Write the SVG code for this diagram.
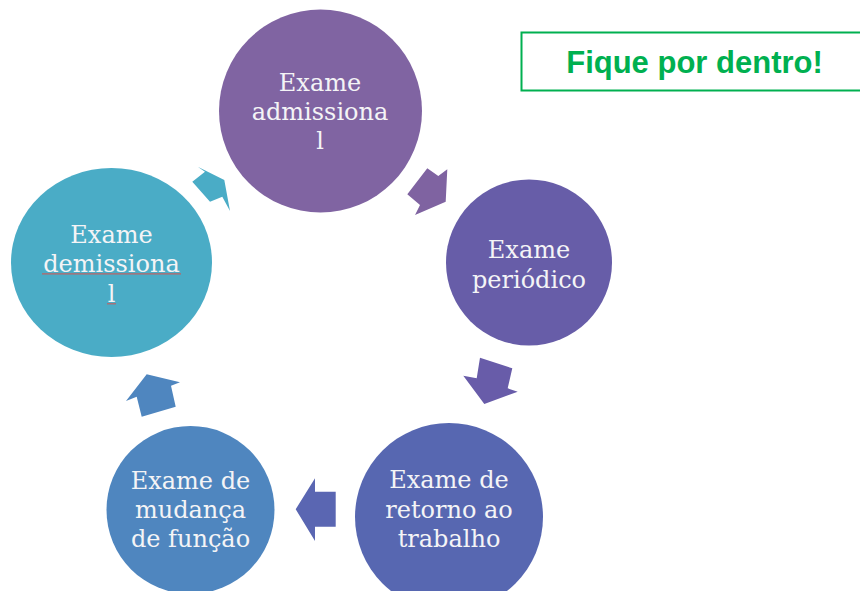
<svg xmlns="http://www.w3.org/2000/svg" width="860" height="591" viewBox="0 0 860 591">
<style>
.lbl{font-family:"DejaVu Serif","Liberation Serif",serif;font-size:24px;fill:#F4F4F6;text-anchor:middle}
.title{font-family:"Liberation Sans",Arial,sans-serif;font-size:31px;font-weight:bold;fill:#00B050;text-anchor:middle}
.sq{stroke:#D9534F;stroke-width:1.2;opacity:0.8}
</style>
<rect width="860" height="591" fill="#FFFFFF"/>
<g id="connectors">
<polygon points="427.3,168.3 438.3,176 447.3,169.3 445.7,201.7 415,215 420,205 407.3,194.3" fill="#7F63A1"/>
<polygon points="480,357.7 512.3,368.3 507.7,388.3 517.7,391.7 484.3,404 463.3,375.7 476.7,378.3" fill="#685CA9"/>
<polygon points="335.7,491.7 315,491.7 315,478.3 295.7,509.3 315,541 315,526.7 335.7,526.7" fill="#5A66B2"/>
<polygon points="146.7,374.3 180,382.3 171,385.7 175.7,406.7 141.7,416.7 136.7,396.7 126,401" fill="#4F86BF"/>
<polygon points="197.7,166.7 224.3,180 230,211 222.3,196.7 210,201.7 192.3,181.7 205,171.7" fill="#4AACC6"/>
</g>
<g id="node-admissional">
<circle cx="320.5" cy="111" r="101.5" fill="#8064A2"/>
<text class="lbl" x="320" y="91">Exame</text>
<text class="lbl" x="320" y="120">admissiona</text>
<text class="lbl" x="320" y="149">l</text>
</g>
<g id="node-periodico">
<circle cx="529" cy="262.5" r="83" fill="#675DA8"/>
<text class="lbl" x="529" y="258">Exame</text>
<text class="lbl" x="529" y="288">periódico</text>
</g>
<g id="node-retorno">
<circle cx="449" cy="517" r="94" fill="#5767B1"/>
<text class="lbl" x="449" y="488">Exame de</text>
<text class="lbl" x="449" y="518">retorno ao</text>
<text class="lbl" x="449" y="547">trabalho</text>
</g>
<g id="node-mudanca">
<circle cx="190.5" cy="510" r="84" fill="#4F86BF"/>
<text class="lbl" x="190.5" y="489">Exame de</text>
<text class="lbl" x="190.5" y="518">mudança</text>
<text class="lbl" x="190.5" y="547">de função</text>
</g>
<g id="node-demissional">
<ellipse cx="111.5" cy="262.5" rx="100.5" ry="94.5" fill="#4AACC6"/>
<text class="lbl" x="111.5" y="243">Exame</text>
<text class="lbl" x="111.5" y="272">demissiona</text>
<text class="lbl" x="111.5" y="302">l</text>
<line class="sq" x1="42" y1="273.8" x2="181" y2="273.8"/>
<line class="sq" x1="107" y1="303.8" x2="116" y2="303.8"/>
</g>
<g id="node-fique">
<rect x="521.5" y="32.5" width="340" height="58" fill="#FFFFFF" stroke="#00B050" stroke-width="2"/>
<text class="title" x="694.5" y="73">Fique por dentro!</text>
</g>
</svg>
